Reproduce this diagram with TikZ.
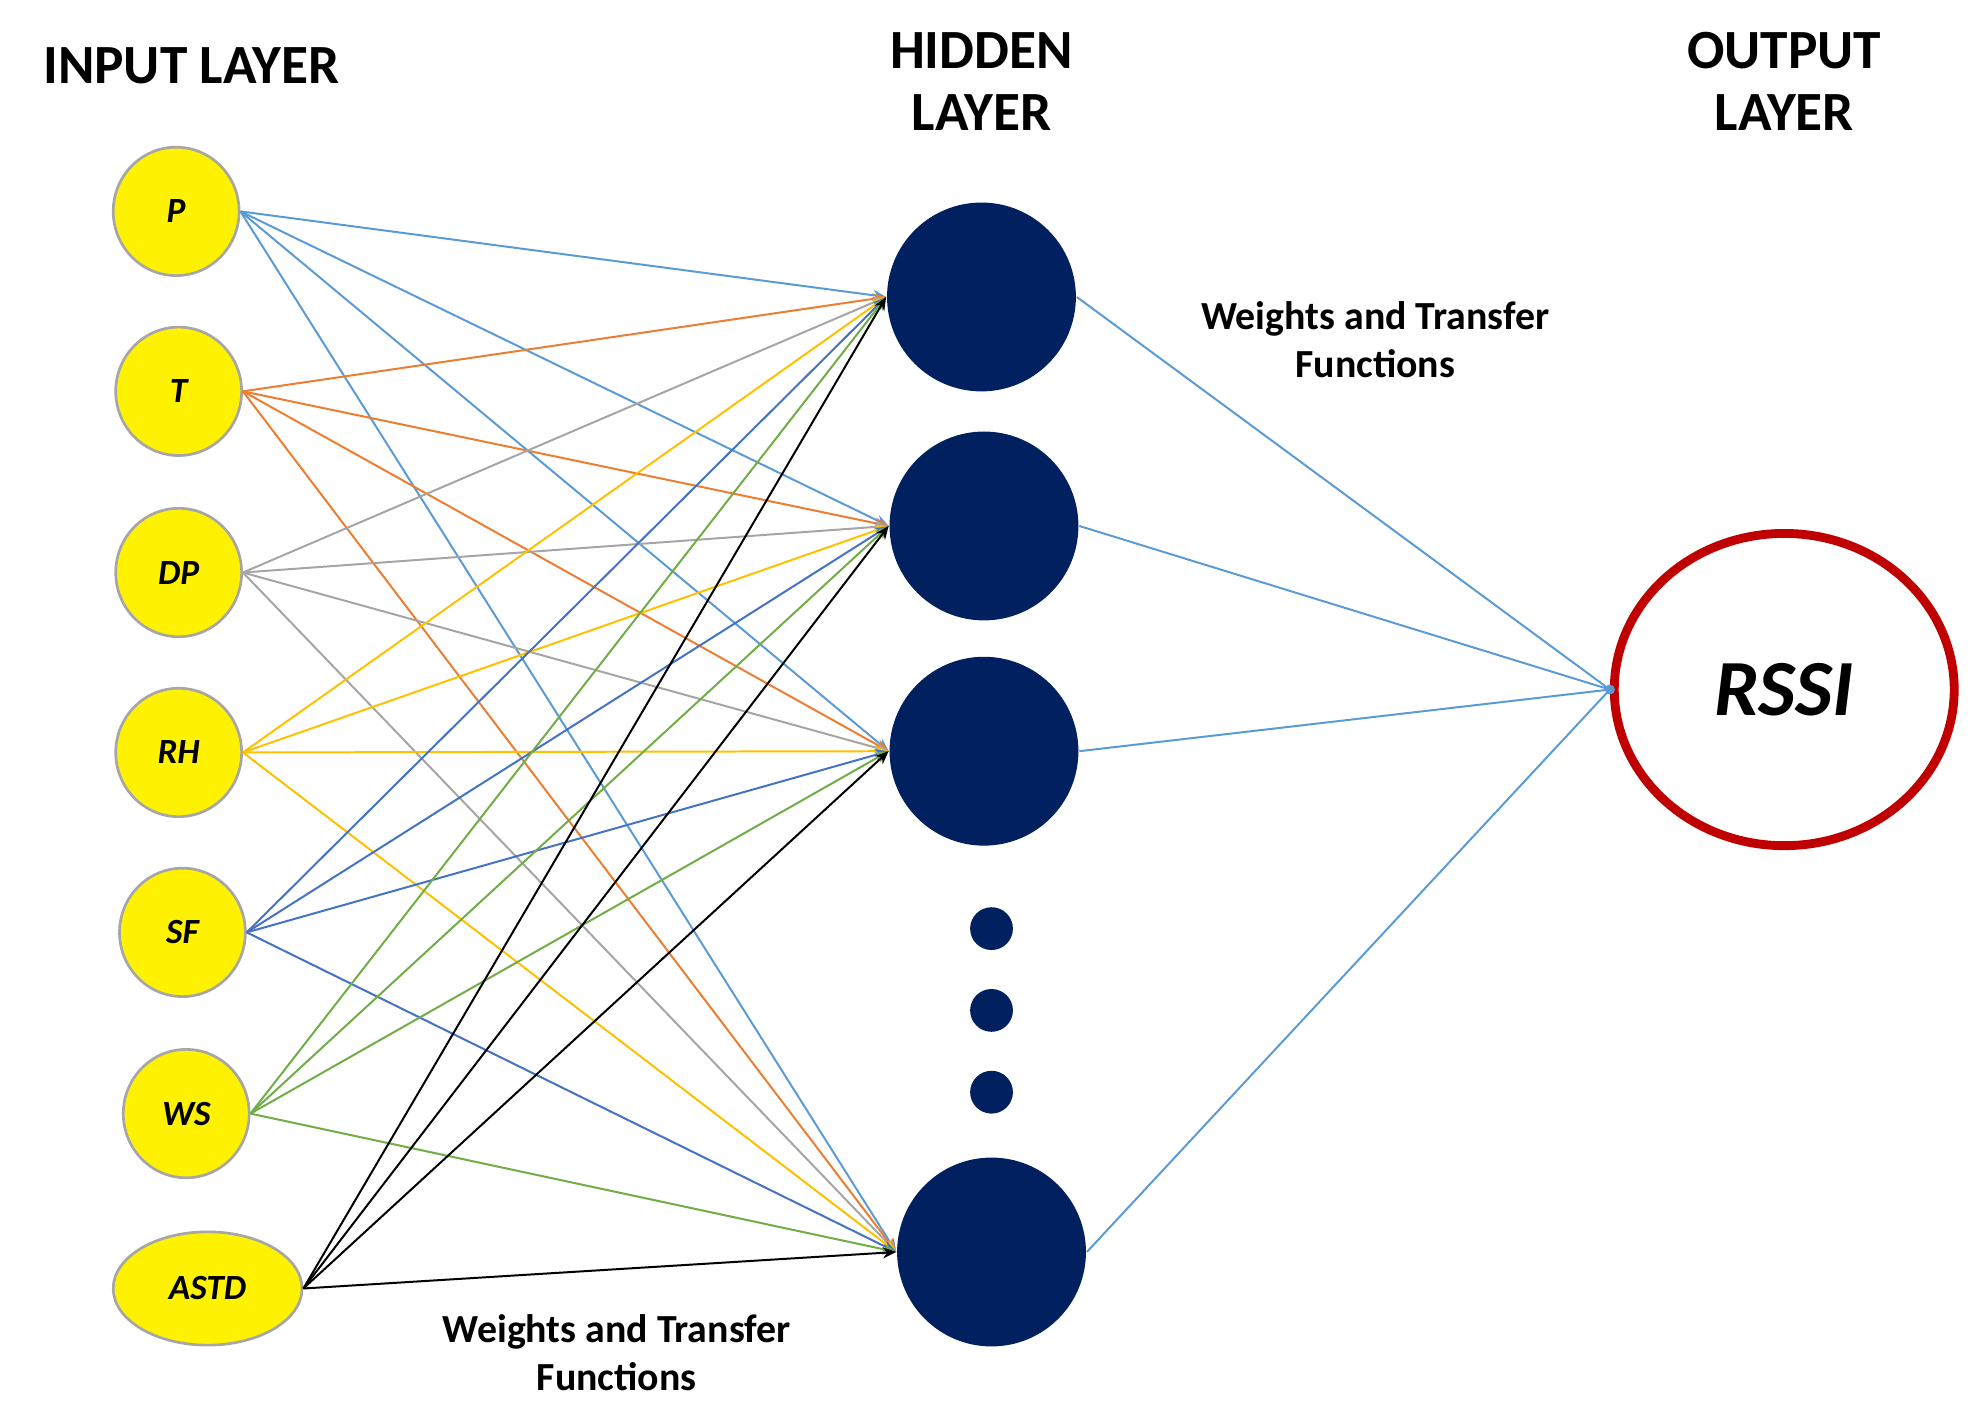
\documentclass[tikz,border=0pt]{standalone}
\usepackage{fontspec}
\setmainfont{Carlito}
\usetikzlibrary{arrows.meta,shapes.geometric}
\definecolor{cP}{HTML}{5B9BD5}
\definecolor{cT}{HTML}{ED7D31}
\definecolor{cDP}{HTML}{A5A5A5}
\definecolor{cRH}{HTML}{FFC000}
\definecolor{cSF}{HTML}{4472C4}
\definecolor{cWS}{HTML}{70AD47}
\definecolor{navy}{HTML}{002060}
\definecolor{rssi}{HTML}{C00000}
\begin{document}
\begin{tikzpicture}[x=0.01cm,y=-0.01cm,
  inp/.style={ellipse,draw=gray!70,fill=yellow,line width=0.6pt,inner sep=0pt,minimum width=1.0cm,minimum height=1.02cm,font=\fontsize{8}{9}\selectfont\bfseries\itshape},
  hid/.style={circle,fill=navy,inner sep=0pt,minimum size=1.5cm},
  dot/.style={circle,fill=navy,inner sep=0pt,minimum size=0.34cm},
  ttl/.style={font=\fontsize{12.5}{14}\selectfont\bfseries,align=center},
  lab/.style={font=\fontsize{9}{11}\selectfont\bfseries,align=center},
  con/.style={line width=0.45pt,-{Stealth[length=3pt,width=2.5pt]}}]
\useasboundingbox (0,0) rectangle (1568,1130);
\node[inp] (P) at (140,168) {P};
\node[inp] (T) at (142,311) {T};
\node[inp] (DP) at (142,455) {DP};
\node[inp] (RH) at (142,598) {RH};
\node[inp] (SF) at (145,741) {SF};
\node[inp] (WS) at (148,885) {WS};
\node[inp,minimum width=1.5cm,minimum height=0.9cm] (ASTD) at (165,1024) {ASTD};
\node[hid] (H1) at (780,236) {};
\node[hid] (H2) at (782,418) {};
\node[hid] (H3) at (782,597) {};
\node[hid] (H4) at (788,995) {};
\node[dot] (D1) at (788,738) {};
\node[dot] (D2) at (788,803) {};
\node[dot] (D3) at (788,868) {};
\node[ellipse,draw=rssi,line width=2pt,minimum width=2.7cm,minimum height=2.48cm,font=\fontsize{18}{20}\selectfont\bfseries\itshape] (R) at (1418,548) {RSSI};
\foreach \n/\c in {P/cP,T/cT,DP/cDP,RH/cRH,SF/cSF,WS/cWS,ASTD/black}{
  \foreach \h in {H1,H2,H3,H4}{
    \draw[con,draw=\c] (\n.east) -- (\h.west);
  }
}
\foreach \h in {H1,H2,H3,H4}{
  \draw[line width=0.45pt,draw=cP] (\h.east) -- (R.west);
}
\fill[cP] (R.west) circle (4);
\node[ttl] at (152,52) {INPUT LAYER};
\node[ttl] at (780,65) {HIDDEN\\LAYER};
\node[ttl] at (1418,65) {OUTPUT\\LAYER};
\node[lab] at (1093,270) {Weights and Transfer\\Functions};
\node[lab] at (490,1075) {Weights and Transfer\\Functions};
\end{tikzpicture}
\end{document}
